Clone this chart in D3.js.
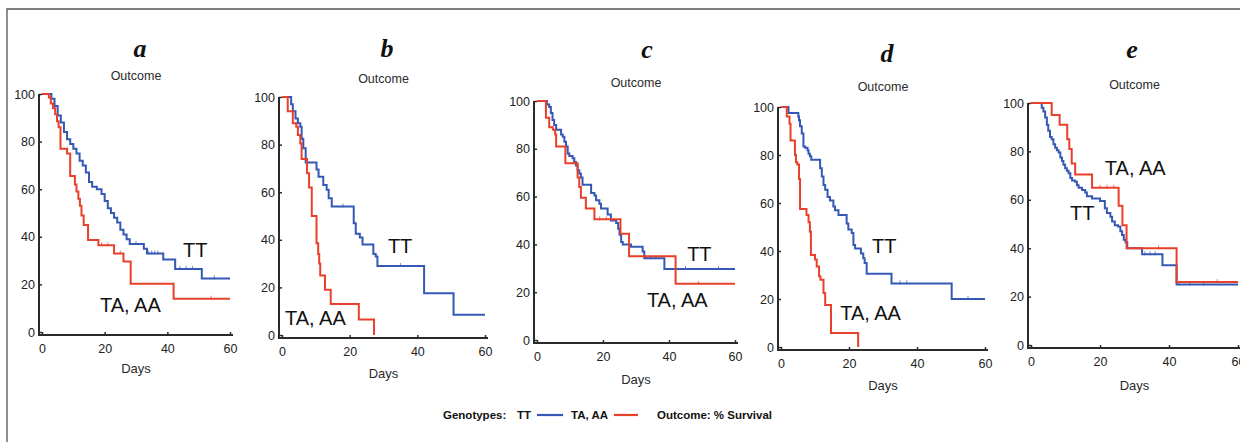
<!DOCTYPE html>
<html>
<head>
<meta charset="utf-8">
<script src="https://cdn.jsdelivr.net/npm/d3@7/dist/d3.min.js"></script>
<style>
  body { margin: 0; background: #fff; }
  svg { display: block; }
  text { font-family: "Liberation Sans", Arial, sans-serif; }
</style>
</head>
<body>
<div id="chart"></div>
<script>
const xTicks = [0, 20, 40, 60];
const yTicks = [0, 20, 40, 60, 80, 100];
const panelNames = ["a", "b", "c", "d", "e"];

// a
const aTTDays = [0, 3, 4, 5, 6, 7, 8, 9, 10, 11, 12, 13, 14, 15, 16, 17.5, 19, 20, 21, 22, 23, 24, 25, 26, 27, 28, 32.5, 33.5, 38.7, 42.5, 51];
const aTTSurv = [100, 98, 95, 91, 88, 84, 81, 79, 77, 75, 72, 70, 67, 63, 61, 60, 58, 55, 52, 50, 48, 46, 43, 41, 39, 37, 35, 33, 30.5, 26.5, 22.5];
const aTAAADays = [0, 2.2, 2.8, 3.5, 4.2, 4.8, 5.3, 5.9, 8, 9, 10.5, 11, 11.6, 12.1, 12.6, 13.3, 14.7, 18, 23, 26, 28.3, 42];
const aTAAASurv = [100, 98.5, 96, 94, 91.5, 88.5, 86, 77, 75, 65.5, 62, 59, 56, 53, 49, 45, 38.7, 36.5, 33, 29.6, 20.3, 14];
const aTTCensor = [30, 34, 35, 36, 37, 44, 46, 48, 55];
const aTAAACensor = [19, 21, 25, 54];

// b
const bTTDays = [0, 2.7, 3.2, 4, 4.7, 5.4, 5.8, 6.3, 7, 10.2, 10.8, 12.2, 13.2, 13.8, 14.7, 21.2, 21.8, 23, 23.8, 27, 27.7, 28.2, 42, 50.7];
const bTTSurv = [100, 97, 94, 91, 89, 87.5, 82.5, 78.5, 72.5, 69.5, 66.5, 63, 61, 57.5, 54, 47, 42.5, 41, 38, 34, 33, 29, 17.5, 8.5];
const bTAAADays = [0, 1.7, 3.2, 4.2, 4.7, 5.4, 5.8, 7.4, 8, 8.8, 10.2, 10.7, 11, 11.3, 12.7, 14.4, 22.7, 27.2];
const bTAAASurv = [100, 94, 89, 87.5, 84, 80.5, 74, 68, 62, 50, 38.5, 34, 30, 25, 19, 13, 6.5, 0];
const bTTCensor = [18, 35];
const bTAAACensor = [];

// c
const cTTDays = [0, 3, 3.7, 4.2, 4.7, 5.2, 5.8, 7.3, 7.8, 8.3, 8.8, 9.3, 9.8, 10.8, 11.3, 11.8, 12.3, 12.8, 13.3, 13.8, 16.4, 17.4, 17.9, 18.9, 19.4, 21.4, 22.4, 24, 24.6, 25, 25.5, 26, 28.5, 32, 32.5, 38.6];
const cTTSurv = [100, 98.5, 97.5, 95, 92, 90, 88, 86, 85, 83, 81, 78, 77, 76, 74.5, 73, 71, 69.7, 68, 65, 61.5, 60.5, 58.5, 57, 55, 52.5, 50, 49, 46.5, 44, 41, 40, 39, 37, 34.2, 29.7];
const cTAAADays = [0, 2.7, 3.7, 4.8, 5.5, 5.8, 8.6, 12.3, 12.8, 13.3, 14.8, 17.4, 25.3, 27.9, 42];
const cTAAASurv = [100, 93, 89, 88, 86, 81, 74, 68, 64, 59.5, 55, 50.5, 44.5, 35, 23.5];
const cTTCensor = [33, 34.5, 36, 45, 55];
const cTAAACensor = [11, 19, 21, 49];

// d
const dTTDays = [0, 2.2, 5.1, 5.3, 5.6, 6.1, 6.6, 7.1, 7.8, 8.1, 8.5, 8.9, 11.5, 12, 12.5, 13, 13.7, 14.4, 15.4, 15.9, 16.9, 19.3, 19.8, 20.8, 21.3, 21.8, 23.5, 24.2, 24.6, 25.2, 32.5, 50.2];
const dTTSurv = [100, 97.5, 96, 94.5, 92, 89, 83.5, 83, 82, 80.5, 79.5, 78, 74.5, 71, 67.5, 65.5, 62.5, 61, 58.5, 57, 55, 51.5, 49, 47.5, 42.5, 41, 39, 37, 35, 30.5, 26.5, 20];
const dTAAADays = [0, 1.7, 2.5, 2.8, 4.1, 4.4, 4.8, 5.3, 5.6, 7.5, 8.1, 8.5, 8.8, 10, 10.5, 11.2, 11.6, 12.5, 13, 14.7, 22.7];
const dTAAASurv = [100, 96, 93, 86, 80, 77, 76, 70, 57.5, 55, 52, 48, 38.3, 36.5, 33.5, 29.5, 28, 22.5, 17.5, 5.8, 0];
const dTTCensor = [35, 37, 55];
const dTAAACensor = [];

// e
const eTTDays = [0, 3.1, 3.6, 4.1, 4.6, 5, 5.5, 6, 6.5, 7, 7.5, 8, 8.5, 9, 9.4, 9.9, 10.4, 10.9, 11.4, 11.9, 12.8, 13.3, 13.8, 14.8, 15.7, 16.2, 17.7, 20, 21.4, 22, 23, 23.5, 24.3, 25.2, 25.9, 26.4, 26.9, 27.4, 27.9, 32.2, 38.1, 42.2];
const eTTSurv = [100, 98, 96.5, 94, 91, 88.5, 86, 85, 83, 81.5, 80.5, 79.5, 77.5, 76, 74.5, 73, 72, 71, 69, 68, 67.5, 66, 65, 64, 63, 61.5, 60.5, 59.5, 56.5, 54.5, 53, 51, 49.5, 49, 47, 45.5, 43.5, 42.5, 40, 37.5, 33, 25];
const eTAAADays = [0, 6, 8.3, 10.5, 11.1, 11.8, 12.8, 17.7, 25.4, 26.5, 27.7, 42.2];
const eTAAASurv = [100, 95, 91, 85, 81, 75, 70.5, 65, 57.5, 49.5, 40, 26];
const eTTCensor = [33, 34.5, 36, 43, 46, 50];
const eTAAACensor = [20, 22, 24, 37, 54];

// label positions, in data units (day, % survival)
const ttLabelPos = [[45, 31.5], [31.3, 34.5], [45.5, 33], [26.8, 39.2], [11.3, 51.7]];
const taaaLabelPos = [[18.5, 8.4], [0.9, 4.2], [33.3, 13.8], [17.4, 11.3], [21.4, 70.3]];

const series = {
  a: [aTTDays, aTTSurv, aTAAADays, aTAAASurv, aTTCensor, aTAAACensor],
  b: [bTTDays, bTTSurv, bTAAADays, bTAAASurv, bTTCensor, bTAAACensor],
  c: [cTTDays, cTTSurv, cTAAADays, cTAAASurv, cTTCensor, cTAAACensor],
  d: [dTTDays, dTTSurv, dTAAADays, dTAAASurv, dTTCensor, dTAAACensor],
  e: [eTTDays, eTTSurv, eTAAADays, eTAAASurv, eTTCensor, eTAAACensor]
};

// pixel frame of each panel: day 0 / day 60 and 100 % / 0 %
const frames = [
  { x0: 42,   x1: 230,  y1: 94,  y0: 332, titleX: 140,  titleY: 57, outcomeY: 80, daysY: 373 },
  { x0: 282,  x1: 485,  y1: 97,  y0: 335, titleX: 387,  titleY: 57, outcomeY: 83, daysY: 378 },
  { x0: 537,  x1: 735,  y1: 101, y0: 340, titleX: 647,  titleY: 58, outcomeY: 87, daysY: 384 },
  { x0: 781,  x1: 985,  y1: 107, y0: 347, titleX: 887,  titleY: 62, outcomeY: 91, daysY: 390 },
  { x0: 1031, x1: 1238, y1: 103, y0: 345, titleX: 1132, titleY: 58, outcomeY: 89, daysY: 390 }
];

const blue = "#3558b5", red = "#e8402a", axisCol = "#2a2a2a";
const width = 1240, height = 442;

const svg = d3.select("#chart").append("svg")
  .attr("width", width)
  .attr("height", height);

// outer frame (only top and left are in view)
svg.append("path")
  .attr("d", `M7,${height}V9H${width}`)
  .attr("fill", "none")
  .attr("stroke", "#555")
  .attr("stroke-width", 1.3);

function stepValue(days, surv, t) {
  let v = surv[0];
  for (let i = 0; i < days.length; i++) if (days[i] <= t) v = surv[i];
  return v;
}

panelNames.forEach((name, i) => {
  const f = frames[i];
  const [ttD, ttS, taD, taS, ttC, taC] = series[name];
  const x = d3.scaleLinear().domain([0, 60]).range([f.x0, f.x1]);
  const y = d3.scaleLinear().domain([0, 100]).range([f.y0, f.y1]);
  const g = svg.append("g");
  const cx = (f.x0 + f.x1) / 2;

  g.append("text")
    .attr("x", f.titleX).attr("y", f.titleY)
    .attr("text-anchor", "middle")
    .style("font-family", "'Liberation Serif', 'Times New Roman', serif")
    .style("font-weight", "bold").style("font-style", "italic")
    .style("font-size", "26px").attr("fill", "#111")
    .text(name);

  g.append("text")
    .attr("x", cx).attr("y", f.outcomeY)
    .attr("text-anchor", "middle")
    .style("font-size", "12.5px").attr("fill", "#2a2a2a")
    .text("Outcome");

  g.append("text")
    .attr("x", cx).attr("y", f.daysY)
    .attr("text-anchor", "middle")
    .style("font-size", "13px").attr("fill", "#2a2a2a")
    .text("Days");

  // axes, offset a little from the data origin
  const axX = x(0) - 3, axY = y(0) + 3;
  const yAxis = d3.axisLeft(y).tickValues(yTicks).tickSize(3).tickPadding(1);
  const xAxis = d3.axisBottom(x).tickValues(xTicks).tickSize(3).tickPadding(6);

  const ya = g.append("g").attr("transform", `translate(${axX},0)`).call(yAxis);
  const xa = g.append("g").attr("transform", `translate(0,${axY})`).call(xAxis);
  [ya, xa].forEach(a => {
    a.select(".domain").remove();
    a.selectAll(".tick line").attr("stroke", axisCol).attr("stroke-width", 1.5);
    a.selectAll(".tick text")
      .style("font-family", "'Liberation Sans', Arial, sans-serif")
      .style("font-size", "12.5px").attr("fill", "#222");
  });
  xa.selectAll(".tick line").attr("y1", -3).attr("y2", 0);
  ya.selectAll(".tick line").attr("x1", 0).attr("x2", 3);

  g.append("path")
    .attr("d", `M${axX},${y(100)}V${axY}H${x(60) + 3}`)
    .attr("fill", "none")
    .attr("stroke", axisCol)
    .attr("stroke-width", 2);

  const line = d3.line()
    .x(d => x(d[0])).y(d => y(d[1]))
    .curve(d3.curveStepAfter);

  function curvePoints(days, surv) {
    const pts = days.map((d, k) => [d, surv[k]]);
    const last = surv[surv.length - 1];
    if (last > 0) pts.push([60, last]);
    return pts;
  }

  [[ttD, ttS, ttC, blue], [taD, taS, taC, red]].forEach(([d, s, c, col]) => {
    g.append("path")
      .datum(curvePoints(d, s))
      .attr("d", line)
      .attr("fill", "none")
      .attr("stroke", col)
      .attr("stroke-width", 2);

    g.selectAll(null)
      .data(c)
      .enter().append("line")
      .attr("x1", t => x(t)).attr("x2", t => x(t))
      .attr("y1", t => y(stepValue(d, s, t)) - 3)
      .attr("y2", t => y(stepValue(d, s, t)) + 1)
      .attr("stroke", col)
      .attr("stroke-width", 1)
      .attr("opacity", 0.7);
  });

  g.append("text")
    .attr("x", x(ttLabelPos[i][0])).attr("y", y(ttLabelPos[i][1]))
    .style("font-size", "20px").attr("fill", "#111")
    .text("TT");

  g.append("text")
    .attr("x", x(taaaLabelPos[i][0])).attr("y", y(taaaLabelPos[i][1]))
    .style("font-size", "20px").attr("fill", "#111")
    .text("TA, AA");
});

// legend
const legend = svg.append("g")
  .style("font-family", "'Open Sans', 'Noto Sans', sans-serif")
  .style("font-weight", "bold")
  .style("font-size", "11.5px")
  .attr("fill", "#111");

legend.append("text").attr("x", 443).attr("y", 419).text("Genotypes:");
legend.append("text").attr("x", 517).attr("y", 419).text("TT");
legend.append("line").attr("x1", 537).attr("x2", 563).attr("y1", 415).attr("y2", 415)
  .attr("stroke", blue).attr("stroke-width", 2.2);
legend.append("text").attr("x", 571).attr("y", 419).text("TA, AA");
legend.append("line").attr("x1", 614).attr("x2", 638).attr("y1", 415).attr("y2", 415)
  .attr("stroke", red).attr("stroke-width", 2.2);
legend.append("text").attr("x", 657).attr("y", 419).text("Outcome: % Survival");
</script>
</body>
</html>
